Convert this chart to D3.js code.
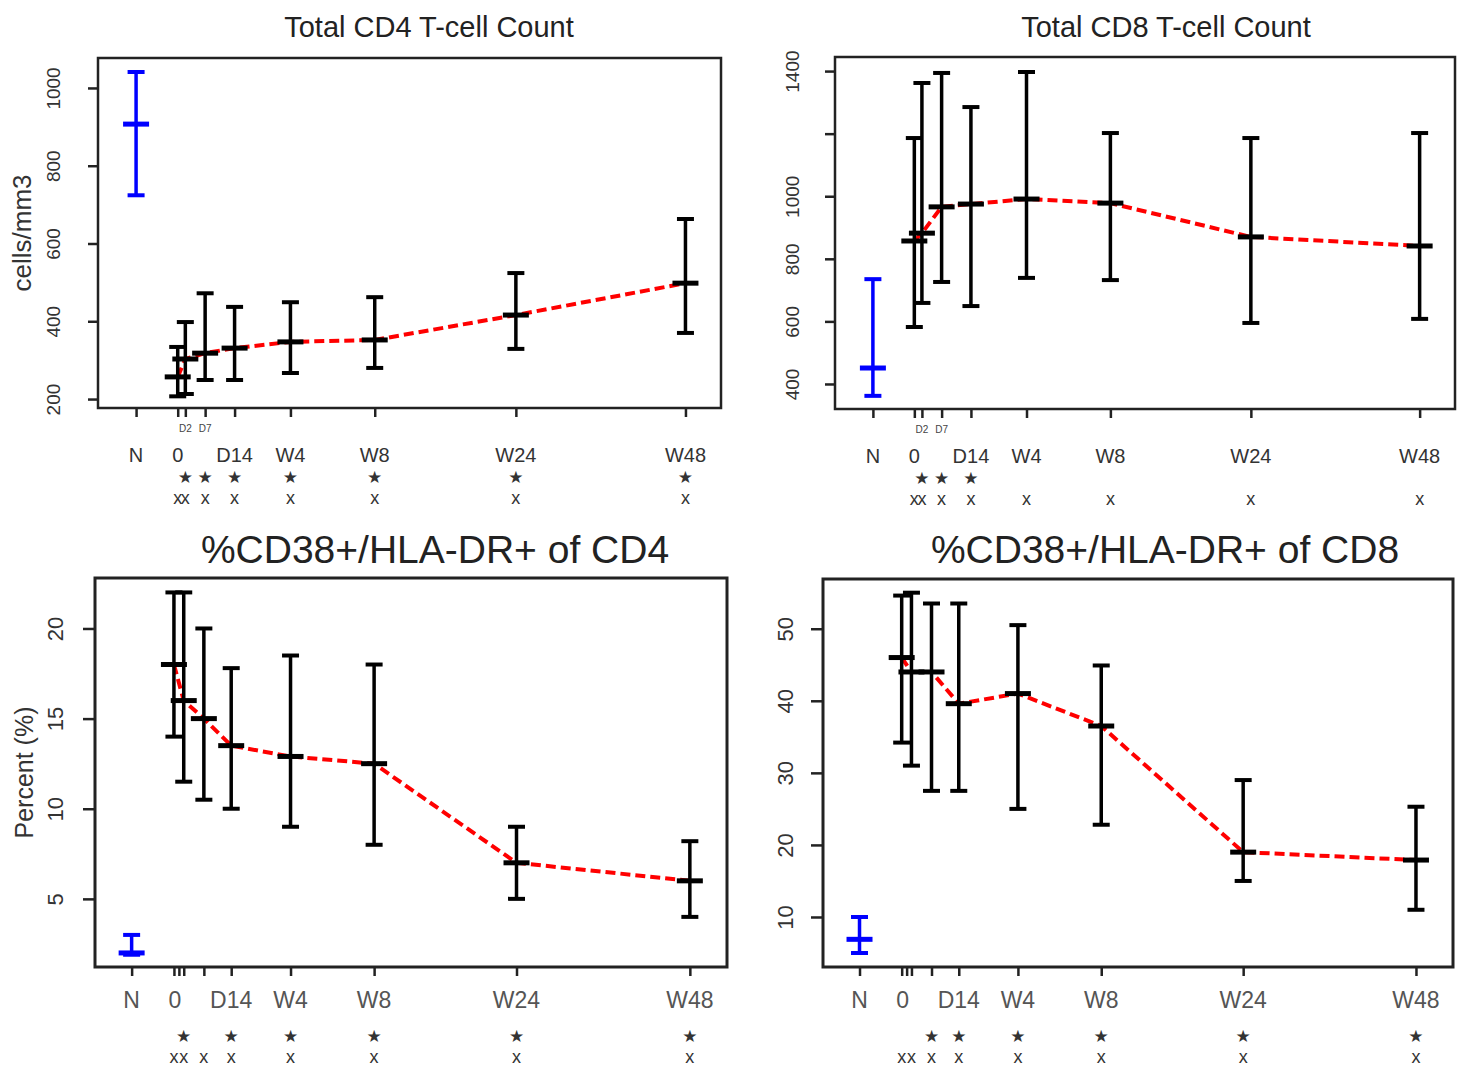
<!DOCTYPE html>
<html>
<head>
<meta charset="utf-8">
<script src="https://cdn.jsdelivr.net/npm/d3@7"></script>
<style>
  body { margin: 0; background: #fff; }
  svg { display: block; font-family: "Liberation Sans", Arial, sans-serif; }
</style>
</head>
<body>
<svg id="chart" width="1460" height="1070"></svg>
<script>
// ---- Time points (study visits after treatment start) ----
const timepoints = ["0", "D2", "D7", "D14", "W4", "W8", "W24", "W48"];
// Axis positions of each visit (compressed time axis) for the upper and lower rows
const topTimePos = [0, 0.75, 2.7, 5.6, 11.1, 19.4, 33.3, 50];
const bottomTimePos = [0, 0.95, 2.9, 5.55, 11.3, 19.4, 33.2, 50];
const normalPos = -4.1;            // healthy-donor reference group "N"
const bottomExtraTick = 0.48;      // unlabeled tick between day 0 and D2

// Axis labels
const topAxisLabels = ["N", "0", "D14", "W4", "W8", "W24", "W48"];
const bottomAxisLabels = ["N", "0", "D14", "W4", "W8", "W24", "W48"];
const smallDayLabels = ["D2", "D7"];

// ---- Total CD4 T-cell count (cells/mm3) ----
const cd4CountMean  = [257, 303, 318, 331, 347, 352, 416, 498];
const cd4CountLower = [207, 213, 249, 249, 267, 280, 329, 370];
const cd4CountUpper = [334, 398, 472, 437, 449, 462, 524, 663];
const cd4CountNormal = [907, 724, 1041];   // mean, lower, upper
const cd4CountTicks = [200, 400, 600, 800, 1000];
const cd4CountTickLabels = ["200", "400", "600", "800", "1000"];
const cd4CountStars   = [0, 1, 1, 1, 1, 1, 1, 1];
const cd4CountCrosses = [1, 1, 1, 1, 1, 1, 1, 1];

// ---- Total CD8 T-cell count (cells/mm3) ----
const cd8CountMean  = [857, 882, 966, 975, 991, 978, 870, 841];
const cd8CountLower = [582, 659, 726, 649, 739, 732, 595, 608];
const cd8CountUpper = [1186, 1362, 1394, 1285, 1397, 1202, 1186, 1202];
const cd8CountNormal = [451, 362, 735];
const cd8CountTicks = [400, 600, 800, 1000, 1200, 1400];
const cd8CountTickLabels = ["400", "600", "800", "1000", "", "1400"];
const cd8CountStars   = [0, 1, 1, 1, 0, 0, 0, 0];
const cd8CountCrosses = [1, 1, 1, 1, 1, 1, 1, 1];

// ---- %CD38+/HLA-DR+ of CD4 ----
const cd4ActMean  = [18.0, 16.0, 15.0, 13.5, 12.9, 12.5, 7.0, 6.0];
const cd4ActLower = [14.0, 11.5, 10.5, 10.0, 9.0, 8.0, 5.0, 4.0];
const cd4ActUpper = [22.0, 22.0, 20.0, 17.8, 18.5, 18.0, 9.0, 8.2];
const cd4ActNormal = [2.0, 1.9, 3.0];
const cd4ActTicks = [5, 10, 15, 20];
const cd4ActTickLabels = ["5", "10", "15", "20"];
const cd4ActStars   = [0, 1, 0, 1, 1, 1, 1, 1];
const cd4ActCrosses = [1, 1, 1, 1, 1, 1, 1, 1];

// ---- %CD38+/HLA-DR+ of CD8 ----
const cd8ActMean  = [46.0, 44.0, 44.0, 39.6, 41.0, 36.5, 19.0, 17.9];
const cd8ActLower = [34.2, 31.0, 27.5, 27.5, 25.0, 22.8, 15.0, 11.0];
const cd8ActUpper = [54.6, 55.0, 53.5, 53.5, 50.5, 44.9, 29.0, 25.3];
const cd8ActNormal = [6.9, 5.0, 10.0];
const cd8ActTicks = [10, 20, 30, 40, 50];
const cd8ActTickLabels = ["10", "20", "30", "40", "50"];
const cd8ActStars   = [0, 0, 1, 1, 1, 1, 1, 1];
const cd8ActCrosses = [1, 1, 1, 1, 1, 1, 1, 1];

// ---- Panel definitions ----
const panels = [
  {
    title: "Total CD4 T-cell Count", titleX: 429, titleY: 27, titleSize: 29,
    yLabel: "cells/mm3", yLabelX: 22, yLabelSize: 26,
    box: { x0: 98, y0: 58, x1: 721, y1: 408 }, stroke: 2.5,
    xDomain: [-7.85, 53.5], yDomain: [177, 1077],
    pos: topTimePos, top: true,
    mean: cd4CountMean, lower: cd4CountLower, upper: cd4CountUpper, normal: cd4CountNormal,
    ticks: cd4CountTicks, tickLabels: cd4CountTickLabels, tickLabelOffset: 45, tickFont: 19,
    stars: cd4CountStars, crosses: cd4CountCrosses,
    axisLabels: topAxisLabels
  },
  {
    title: "Total CD8 T-cell Count", titleX: 1166, titleY: 27, titleSize: 29,
    yLabel: null,
    box: { x0: 835, y0: 57, x1: 1455, y1: 409 }, stroke: 2.5,
    xDomain: [-7.85, 53.5], yDomain: [320, 1445],
    pos: topTimePos, top: true,
    mean: cd8CountMean, lower: cd8CountLower, upper: cd8CountUpper, normal: cd8CountNormal,
    ticks: cd8CountTicks, tickLabels: cd8CountTickLabels, tickLabelOffset: 43, tickFont: 19,
    stars: cd8CountStars, crosses: cd8CountCrosses,
    axisLabels: topAxisLabels
  },
  {
    title: "%CD38+/HLA-DR+ of CD4", titleX: 435, titleY: 549, titleSize: 39,
    yLabel: "Percent (%)", yLabelX: 24, yLabelSize: 25,
    box: { x0: 95, y0: 578, x1: 727, y1: 967 }, stroke: 3,
    xDomain: [-7.65, 53.6], yDomain: [1.22, 22.8],
    pos: bottomTimePos, top: false,
    mean: cd4ActMean, lower: cd4ActLower, upper: cd4ActUpper, normal: cd4ActNormal,
    ticks: cd4ActTicks, tickLabels: cd4ActTickLabels, tickLabelOffset: 40, tickFont: 22,
    stars: cd4ActStars, crosses: cd4ActCrosses,
    axisLabels: bottomAxisLabels
  },
  {
    title: "%CD38+/HLA-DR+ of CD8", titleX: 1165, titleY: 549, titleSize: 39,
    yLabel: null,
    box: { x0: 823, y0: 579, x1: 1453, y1: 967 }, stroke: 3,
    xDomain: [-7.65, 53.6], yDomain: [3.06, 56.9],
    pos: bottomTimePos, top: false,
    mean: cd8ActMean, lower: cd8ActLower, upper: cd8ActUpper, normal: cd8ActNormal,
    ticks: cd8ActTicks, tickLabels: cd8ActTickLabels, tickLabelOffset: 38, tickFont: 22,
    stars: cd8ActStars, crosses: cd8ActCrosses,
    axisLabels: bottomAxisLabels
  }
];

const svg = d3.select("#chart");

function drawErrorBar(g, cx, y, lo, mid, hi, color) {
  const bar = g.append("g").attr("stroke", color).attr("stroke-linecap", "butt");
  bar.append("line").attr("x1", cx).attr("x2", cx).attr("y1", y(hi)).attr("y2", y(lo)).attr("stroke-width", 3.5);
  bar.append("line").attr("x1", cx - 8.5).attr("x2", cx + 8.5).attr("y1", y(hi)).attr("y2", y(hi)).attr("stroke-width", 4);
  bar.append("line").attr("x1", cx - 8.5).attr("x2", cx + 8.5).attr("y1", y(lo)).attr("y2", y(lo)).attr("stroke-width", 4);
  bar.append("line").attr("x1", cx - 13).attr("x2", cx + 13).attr("y1", y(mid)).attr("y2", y(mid)).attr("stroke-width", 5);
}

panels.forEach(p => {
  const b = p.box;
  const x = d3.scaleLinear().domain(p.xDomain).range([b.x0, b.x1]);
  const y = d3.scaleLinear().domain(p.yDomain).range([b.y1, b.y0]);
  const g = svg.append("g");

  // Title
  g.append("text")
    .attr("x", p.titleX).attr("y", p.titleY)
    .attr("text-anchor", "middle").attr("dominant-baseline", "central")
    .attr("font-size", p.titleSize).attr("fill", "#222")
    .text(p.title);

  // Y axis title
  if (p.yLabel) {
    const cy = (b.y0 + b.y1) / 2;
    g.append("text")
      .attr("transform", `translate(${p.yLabelX},${cy}) rotate(-90)`)
      .attr("text-anchor", "middle").attr("dominant-baseline", "central")
      .attr("font-size", p.yLabelSize).attr("fill", "#333")
      .text(p.yLabel);
  }

  // Mean trajectory (dashed red)
  const idx = d3.range(timepoints.length);
  const line = d3.line().x(i => x(p.pos[i])).y(i => y(p.mean[i]));
  g.append("path")
    .datum(idx)
    .attr("d", line)
    .attr("fill", "none").attr("stroke", "#ff0000")
    .attr("stroke-width", 4).attr("stroke-dasharray", "10,5");

  // Error bars for each visit
  idx.forEach(i => {
    drawErrorBar(g, x(p.pos[i]), y, p.lower[i], p.mean[i], p.upper[i], "#000");
  });

  // Normal reference group
  drawErrorBar(g, x(normalPos), y, p.normal[1], p.normal[0], p.normal[2], "#0000ff");

  // Plot frame
  g.append("rect")
    .attr("x", b.x0).attr("y", b.y0)
    .attr("width", b.x1 - b.x0).attr("height", b.y1 - b.y0)
    .attr("fill", "none").attr("stroke", "#222").attr("stroke-width", p.stroke);

  // Y axis
  const yAxis = d3.axisLeft(y).tickValues(p.ticks).tickSize(p.top ? 10 : 12)
    .tickFormat((d, i) => p.tickLabels[i]);
  const ya = g.append("g").attr("transform", `translate(${b.x0},0)`).call(yAxis);
  ya.select(".domain").remove();
  ya.selectAll(".tick line").attr("stroke", "#222").attr("stroke-width", 2.5);
  ya.selectAll(".tick text")
    .attr("x", null).attr("dy", null)
    .attr("transform", `translate(${-p.tickLabelOffset},0) rotate(-90)`)
    .attr("text-anchor", "middle").attr("dominant-baseline", "central")
    .attr("font-size", p.tickFont).attr("font-family", null).attr("fill", "#333");

  // X axis ticks
  const tickPos = [normalPos].concat(p.pos);
  if (!p.top) tickPos.push(bottomExtraTick);
  const xAxis = d3.axisBottom(x).tickValues(tickPos).tickSize(9).tickFormat("");
  const xa = g.append("g").attr("transform", `translate(0,${b.y1})`).call(xAxis);
  xa.select(".domain").remove();
  xa.selectAll(".tick line").attr("stroke", "#222").attr("stroke-width", 2.5);

  // X axis labels
  const labelPos = [normalPos, p.top ? p.pos[0] : 0.1].concat(p.pos.slice(3));
  const labelY = p.top ? b.y1 + 47 : b.y1 + 33;
  g.selectAll(null).data(p.axisLabels).join("text")
    .attr("x", (d, i) => x(labelPos[i])).attr("y", labelY)
    .attr("text-anchor", "middle").attr("dominant-baseline", "central")
    .attr("font-size", p.top ? 20 : 23).attr("fill", p.top ? "#333" : "#555")
    .text(d => d);

  // Small day labels under the closely spaced ticks
  if (p.top) {
    g.selectAll(null).data(smallDayLabels).join("text")
      .attr("x", (d, i) => x(p.pos[i + 1])).attr("y", b.y1 + 20)
      .attr("text-anchor", "middle").attr("dominant-baseline", "central")
      .attr("font-size", 10).attr("fill", "#444")
      .text(d => d);
  }

  // Significance markers: star vs baseline, x vs normal donors
  const starY = b.y1 + 69;
  const crossY = b.y1 + 90;
  g.selectAll(null).data(idx.filter(i => p.stars[i])).join("text")
    .attr("x", i => x(p.pos[i])).attr("y", starY)
    .attr("text-anchor", "middle").attr("dominant-baseline", "central")
    .attr("font-family", "DejaVu Sans")
    .attr("font-size", 17).attr("fill", "#333")
    .text("\u2605");
  g.selectAll(null).data(idx.filter(i => p.crosses[i])).join("text")
    .attr("x", i => x(p.pos[i])).attr("y", crossY)
    .attr("text-anchor", "middle").attr("dominant-baseline", "central")
    .attr("font-size", 18).attr("fill", "#333")
    .text("x");
});
</script>
</body>
</html>
